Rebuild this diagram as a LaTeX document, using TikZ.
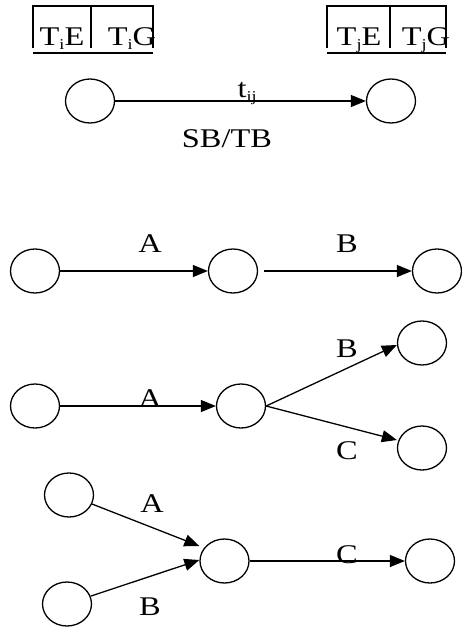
\documentclass[tikz,border=0pt]{standalone}
\usepackage{fontspec}
\setmainfont{Liberation Serif}[FakeStretch=1.2]
\usetikzlibrary{arrows.meta,shapes.geometric}
\newcommand\lowtxt[1]{\raisebox{-0.35ex}{\fontsize{15}{15}\selectfont #1}}
\tikzset{
  event/.style={ellipse, draw, line width=1.3pt, minimum width=49pt, minimum height=44pt, inner sep=0pt},
  act/.style={line width=1.3pt, -{Triangle[length=15pt,width=12pt]}},
  lbl/.style={anchor=base, inner sep=0pt, font=\fontsize{27}{30}\selectfont},
  boxline/.style={line width=1.3pt}
}
\begin{document}
\begin{tikzpicture}[x=1pt,y=-1pt]
\useasboundingbox (0,0) rectangle (461,632);

% event time boxes
\draw[boxline] (33,48) -- (33,6) -- (153,6) -- (153,48) (91,6) -- (91,48);
\draw[boxline] (33,53) -- (153,53);
\node[lbl] (tie) at (62,45) {T\lowtxt{i}E};
\node[lbl] (tig) at (132,45) {T\lowtxt{i}G};
\draw[boxline] (327,48) -- (327,6) -- (446,6) -- (446,48) (390,6) -- (390,48);
\draw[boxline] (327,53) -- (446,53);
\node[lbl] (tje) at (359,45) {T\lowtxt{j}E};
\node[lbl] (tjg) at (426,45) {T\lowtxt{j}G};

% generic activity i -> j
\node[event] (ei) at (90,101) {};
\node[event] (ej) at (391,101) {};
\draw[act] (ei) -- (ej);
\node[lbl] (tij) at (247,97) {t\lowtxt{ij}};
\node[lbl] (sbtb) at (227,147.5) {SB/TB};

% sequence A then B
\node[event] (r1a) at (35,271) {};
\node[event] (r1b) at (233,271) {};
\node[event] (r1c) at (437,271) {};
\draw[act] (r1a) -- (r1b);
\draw[act, shorten <=6pt] (r1b) -- (r1c);
\node[lbl] (r1la) at (150,252) {A};
\node[lbl] (r1lb) at (347,252) {B};

% A then B and C in parallel
\node[event] (r2a) at (35,406) {};
\node[event] (r2b) at (241,406) {};
\node[event] (r2c) at (422,343) {};
\node[event] (r2d) at (422,448) {};
\draw[act] (r2a) -- (r2b);
\draw[act] (r2b.east) -- ([yshift=-2pt]r2c.west);
\draw[act] (r2b.east) -- ([yshift=8pt]r2d.west);
\node[lbl] (r2la) at (150,407) {A};
\node[lbl] (r2lb) at (347,357) {B};
\node[lbl] (r2lc) at (347,459) {C};

% A and B merge before C
\node[event] (r3a) at (69,495) {};
\node[event] (r3b) at (67,604) {};
\node[event] (r3m) at (224.5,561) {};
\node[event] (r3e) at (430,561) {};
\draw[act] (r3a) -- ([yshift=15pt]r3m.west);
\draw[act] (r3b) -- ([yshift=1pt]r3m.west);
\draw[act] (r3m) -- (r3e);
\node[lbl] (r3la) at (152,512) {A};
\node[lbl] (r3lb) at (150,615) {B};
\node[lbl] (r3lc) at (347,563) {C};
\end{tikzpicture}
\end{document}
